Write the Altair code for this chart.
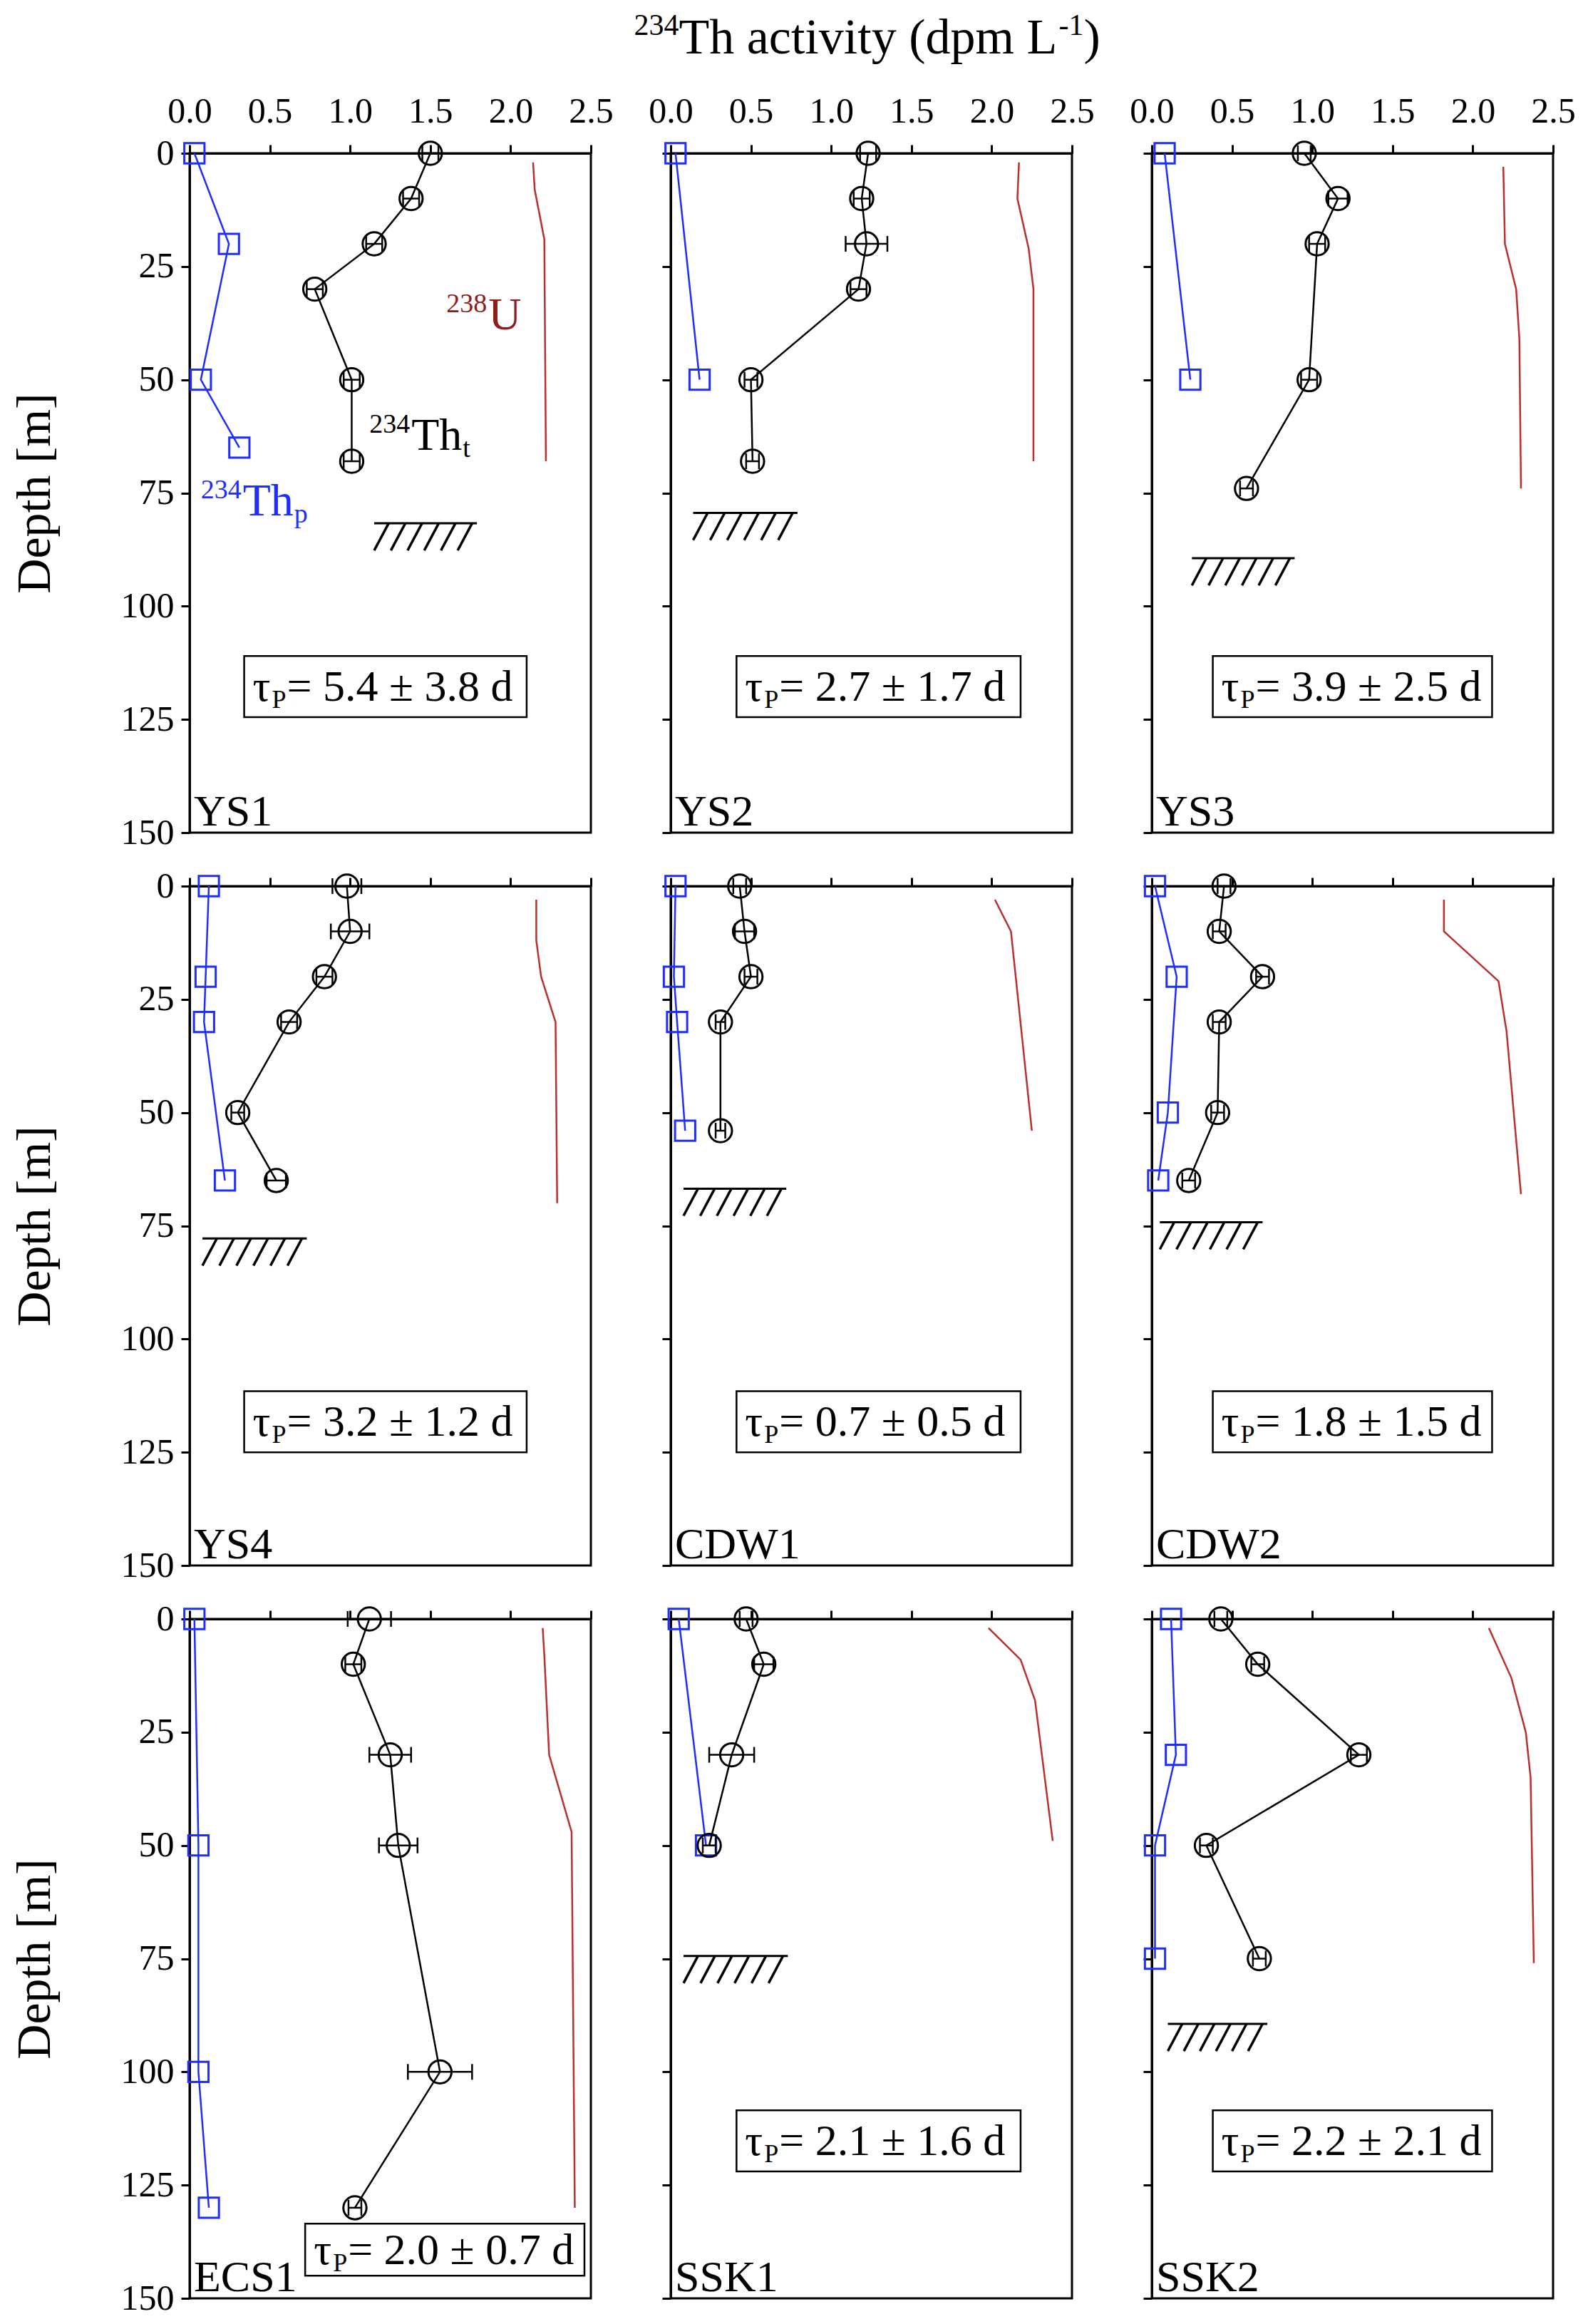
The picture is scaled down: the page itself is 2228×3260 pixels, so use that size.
import altair as alt
import numpy as np
import pandas as pd

# ---------------- data ----------------
STATIONS = ["YS1", "YS2", "YS3", "YS4", "CDW1", "CDW2", "ECS1", "SSK1", "SSK2"]

# total 234Th (black circles): depth [m], activity, error
THT_DEPTH = {
    "YS1": [0, 10, 20, 30, 50, 68],
    "YS2": [0, 10, 20, 30, 50, 68],
    "YS3": [0, 10, 20, 50, 74],
    "YS4": [0, 10, 20, 30, 50, 65],
    "CDW1": [0, 10, 20, 30, 54],
    "CDW2": [0, 10, 20, 30, 50, 65],
    "ECS1": [0, 10, 30, 50, 100, 130],
    "SSK1": [0, 10, 30, 50],
    "SSK2": [0, 10, 30, 50, 75],
}
THT_VAL = {
    "YS1": [1.50, 1.38, 1.15, 0.78, 1.01, 1.01],
    "YS2": [1.23, 1.19, 1.22, 1.17, 0.50, 0.51],
    "YS3": [0.95, 1.16, 1.03, 0.98, 0.59],
    "YS4": [0.98, 1.00, 0.84, 0.62, 0.30, 0.54],
    "CDW1": [0.43, 0.46, 0.50, 0.31, 0.31],
    "CDW2": [0.45, 0.42, 0.69, 0.42, 0.41, 0.23],
    "ECS1": [1.12, 1.02, 1.25, 1.30, 1.56, 1.03],
    "SSK1": [0.47, 0.58, 0.38, 0.24],
    "SSK2": [0.43, 0.66, 1.29, 0.34, 0.67],
}
THT_ERR = {
    "YS1": [0.05, 0.05, 0.05, 0.05, 0.05, 0.05],
    "YS2": [0.05, 0.05, 0.13, 0.05, 0.04, 0.04],
    "YS3": [0.04, 0.06, 0.05, 0.05, 0.04],
    "YS4": [0.09, 0.12, 0.05, 0.05, 0.04, 0.06],
    "CDW1": [0.04, 0.06, 0.04, 0.03, 0.03],
    "CDW2": [0.04, 0.04, 0.04, 0.04, 0.04, 0.04],
    "ECS1": [0.135, 0.05, 0.13, 0.12, 0.20, 0.04],
    "SSK1": [0.04, 0.06, 0.14, 0.04],
    "SSK2": [0.04, 0.04, 0.05, 0.04, 0.04],
}

# particulate 234Th (blue squares)
THP_DEPTH = {
    "YS1": [0, 20, 50, 65],
    "YS2": [0, 50],
    "YS3": [0, 50],
    "YS4": [0, 20, 30, 65],
    "CDW1": [0, 20, 30, 54],
    "CDW2": [0, 20, 50, 65],
    "ECS1": [0, 50, 100, 130],
    "SSK1": [0, 50],
    "SSK2": [0, 30, 50, 75],
}
THP_VAL = {
    "YS1": [0.03, 0.245, 0.07, 0.31],
    "YS2": [0.03, 0.18],
    "YS3": [0.08, 0.24],
    "YS4": [0.12, 0.10, 0.09, 0.22],
    "CDW1": [0.03, 0.02, 0.04, 0.09],
    "CDW2": [0.02, 0.155, 0.10, 0.04],
    "ECS1": [0.03, 0.055, 0.055, 0.12],
    "SSK1": [0.05, 0.22],
    "SSK2": [0.12, 0.15, 0.02, 0.02],
}

# 238U (red line)
U_DEPTH = {
    "YS1": [2, 8, 19, 68],
    "YS2": [2, 10, 21, 30, 68],
    "YS3": [3, 20, 30, 41, 74],
    "YS4": [3, 12, 20, 30, 70],
    "CDW1": [3, 10, 54],
    "CDW2": [3, 10, 21, 32, 68],
    "ECS1": [2, 8, 30, 47, 130],
    "SSK1": [2, 9, 18, 49],
    "SSK2": [2, 13, 25, 35, 76],
}
U_VAL = {
    "YS1": [2.14, 2.15, 2.21, 2.22],
    "YS2": [2.17, 2.16, 2.23, 2.26, 2.26],
    "YS3": [2.19, 2.20, 2.27, 2.29, 2.30],
    "YS4": [2.16, 2.16, 2.19, 2.28, 2.29],
    "CDW1": [2.02, 2.12, 2.25],
    "CDW2": [1.82, 1.82, 2.16, 2.21, 2.30],
    "ECS1": [2.20, 2.21, 2.24, 2.38, 2.40],
    "SSK1": [1.98, 2.18, 2.27, 2.38],
    "SSK2": [2.10, 2.24, 2.33, 2.36, 2.38],
}

# sea floor: depth, start and end of the hatched line (activity units)
SEAFLOOR = {
    "YS1": [81.7, 1.15, 1.79],
    "YS2": [79.4, 0.14, 0.79],
    "YS3": [89.4, 0.25, 0.89],
    "YS4": [77.8, 0.08, 0.73],
    "CDW1": [66.8, 0.08, 0.72],
    "CDW2": [74.2, 0.05, 0.69],
    "SSK1": [74.4, 0.08, 0.73],
    "SSK2": [89.4, 0.10, 0.72],
}

# residence times
TAU_TEXT = {
    "YS1": "= 5.4 \u00b1 3.8 d",
    "YS2": "= 2.7 \u00b1 1.7 d",
    "YS3": "= 3.9 \u00b1 2.5 d",
    "YS4": "= 3.2 \u00b1 1.2 d",
    "CDW1": "= 0.7 \u00b1 0.5 d",
    "CDW2": "= 1.8 \u00b1 1.5 d",
    "ECS1": "= 2.0 \u00b1 0.7 d",
    "SSK1": "= 2.1 \u00b1 1.6 d",
    "SSK2": "= 2.2 \u00b1 2.1 d",
}
# box extent: x1, x2, depth top, depth bottom
TAU_BOX = {
    "YS1": [0.34, 2.10, 111, 124.5],
    "YS2": [0.41, 2.18, 111, 124.5],
    "YS3": [0.38, 2.12, 111, 124.5],
    "YS4": [0.34, 2.10, 111.5, 125],
    "CDW1": [0.41, 2.18, 111.5, 125],
    "CDW2": [0.38, 2.12, 111.5, 125],
    "ECS1": [0.72, 2.46, 133.5, 145],
    "SSK1": [0.41, 2.18, 108.5, 122],
    "SSK2": [0.38, 2.12, 108.5, 122],
}

X_TICKS = [0.0, 0.5, 1.0, 1.5, 2.0, 2.5]
Y_TICKS = [0, 25, 50, 75, 100, 125, 150]

# ---------------- styling ----------------
FONT = "Liberation Serif"
BLUE = "#1f2dff"
RED = "#b8312f"
DARKRED = "#8f1d1d"
W, H = 563, 953

xscale = alt.Scale(domain=[0, 2.5], nice=False, zero=False)
yscale = alt.Scale(domain=[0, 150], reverse=True, nice=False, zero=False)

one = pd.DataFrame({"a": [0]})


def panel(i, st):
    row, col = divmod(i, 3)
    xaxis = alt.Axis(orient="top", values=X_TICKS, format=".1f", labels=(row == 0),
                     labelFlush=False, labelOverlap=False, labelPadding=22)
    yaxis = alt.Axis(orient="left", values=Y_TICKS, labels=(col == 0),
                     labelFlush=False, labelOverlap=False, labelPadding=10,
                     titlePadding=86)
    ytitle = "Depth [m]" if col == 0 else None

    def ex(field="x"):
        return alt.X(f"{field}:Q", scale=xscale, axis=xaxis, title=None)

    def ey(field="depth"):
        return alt.Y(f"{field}:Q", scale=yscale, axis=yaxis, title=ytitle)

    def text_at(df, text, size, color, dx, dy, xf="x", yf="depth"):
        return alt.Chart(df).mark_text(
            text=text, font=FONT, fontSize=size, color=color, dx=dx, dy=dy,
            align="left", baseline="alphabetic"
        ).encode(x=ex(xf), y=ey(yf))

    layers = []

    u = pd.DataFrame({"x": U_VAL[st], "depth": U_DEPTH[st]})
    layers.append(alt.Chart(u).mark_line(color=RED, strokeWidth=2.5).encode(
        x=ex(), y=ey(), order="depth:Q"))

    p = pd.DataFrame({"x": THP_VAL[st], "depth": THP_DEPTH[st]})
    layers.append(alt.Chart(p).mark_line(color=BLUE, strokeWidth=2.5).encode(
        x=ex(), y=ey(), order="depth:Q"))
    layers.append(alt.Chart(p).mark_point(shape="square", filled=False, size=800,
                                          strokeWidth=3, color=BLUE, opacity=1).encode(
        x=ex(), y=ey()))

    t = pd.DataFrame({"x": THT_VAL[st], "depth": THT_DEPTH[st], "err": THT_ERR[st]})
    t["lo"] = t["x"] - t["err"]
    t["hi"] = t["x"] + t["err"]
    layers.append(alt.Chart(t).mark_line(color="black", strokeWidth=2.5).encode(
        x=ex(), y=ey(), order="depth:Q"))
    layers.append(alt.Chart(t).mark_rule(color="black", strokeWidth=2.5).encode(
        x=ex("lo"), x2="hi:Q", y=ey()))
    for f in ("lo", "hi"):
        layers.append(alt.Chart(t).mark_tick(orient="vertical", size=22, thickness=2.5,
                                             color="black", opacity=1).encode(
            x=ex(f), y=ey()))
    layers.append(alt.Chart(t).mark_point(shape="circle", filled=False, size=1050,
                                          strokeWidth=3, color="black", opacity=1).encode(
        x=ex(), y=ey()))

    if st in SEAFLOOR:
        d, x1, x2 = SEAFLOOR[st]
        sf = pd.DataFrame({"x": [x1], "x2": [x2], "depth": [d]})
        layers.append(alt.Chart(sf).mark_rule(color="black", strokeWidth=3).encode(
            x=ex(), x2="x2:Q", y=ey()))
        tops = np.linspace(x1 + 0.09, x2 - 0.03, 6)
        hatch = pd.DataFrame({"xb": tops - 0.09, "xt": tops,
                              "db": [d + 6.0] * 6, "dt": [d] * 6})
        layers.append(alt.Chart(hatch).mark_rule(color="black", strokeWidth=3.5).encode(
            x=ex("xb"), x2="xt:Q", y=ey("db"), y2="dt:Q"))

    bx1, bx2, bd1, bd2 = TAU_BOX[st]
    box = pd.DataFrame({"x": [bx1], "x2": [bx2], "depth": [bd1], "d2": [bd2],
                        "mid": [(bd1 + bd2) / 2]})
    layers.append(alt.Chart(box).mark_rect(fill="white", stroke="black",
                                           strokeWidth=2.5).encode(
        x=ex(), x2="x2:Q", y=ey(), y2="d2:Q"))
    layers.append(text_at(box, "\u03c4", 62, "black", 12, 20, yf="mid"))
    layers.append(text_at(box, "P", 36, "black", 39, 30, yf="mid"))
    layers.append(text_at(box, TAU_TEXT[st], 62, "black", 60, 20, yf="mid"))

    name = pd.DataFrame({"x": [0.0], "depth": [150.0]})
    layers.append(text_at(name, st, 62, "black", 6, -10))

    if st == "YS1":
        lab_u = pd.DataFrame({"x": [1.6], "depth": [38.9]})
        layers.append(text_at(lab_u, "238", 38, DARKRED, 0, -24))
        layers.append(text_at(lab_u, "U", 64, DARKRED, 59, 0))
        lab_t = pd.DataFrame({"x": [1.12], "depth": [65.5]})
        layers.append(text_at(lab_t, "234", 38, "black", 0, -24))
        layers.append(text_at(lab_t, "Th", 64, "black", 59, 0))
        layers.append(text_at(lab_t, "t", 38, "black", 131, 10))
        lab_p = pd.DataFrame({"x": [0.07], "depth": [80.0]})
        layers.append(text_at(lab_p, "234", 38, BLUE, 0, -24))
        layers.append(text_at(lab_p, "Th", 64, BLUE, 59, 0))
        layers.append(text_at(lab_p, "p", 38, BLUE, 131, 10))

    if row == 0 and col == 1:
        def title_piece(text, size, dx, dy):
            return alt.Chart(one).mark_text(
                text=text, font=FONT, fontSize=size, color="black", dx=dx, dy=dy,
                align="left", baseline="alphabetic"
            ).encode(x=alt.value(W / 2), y=alt.value(-140))
        layers.append(title_piece("234", 42, -333, -26))
        layers.append(title_piece("Th activity (dpm L", 70, -270, 0))
        layers.append(title_piece("-1", 42, 263, -26))
        layers.append(title_piece(")", 70, 298, 0))

    return alt.layer(*layers).properties(width=W, height=H)


panels = [panel(i, st) for i, st in enumerate(STATIONS)]
chart = alt.concat(
    *panels, columns=3, spacing={"row": 75, "column": 112}, bounds="flush"
).properties(background="white").configure_view(
    stroke="black", strokeWidth=3
).configure_axis(
    domainColor="black", domainWidth=3, tickColor="black", tickWidth=3, tickSize=12,
    labelFont=FONT, labelFontSize=50, labelColor="black",
    titleFont=FONT, titleFontSize=68, titleFontWeight="normal", titleColor="black",
    grid=False
)

chart.save("out.html", embed_options={"renderer": "svg", "actions": False})
